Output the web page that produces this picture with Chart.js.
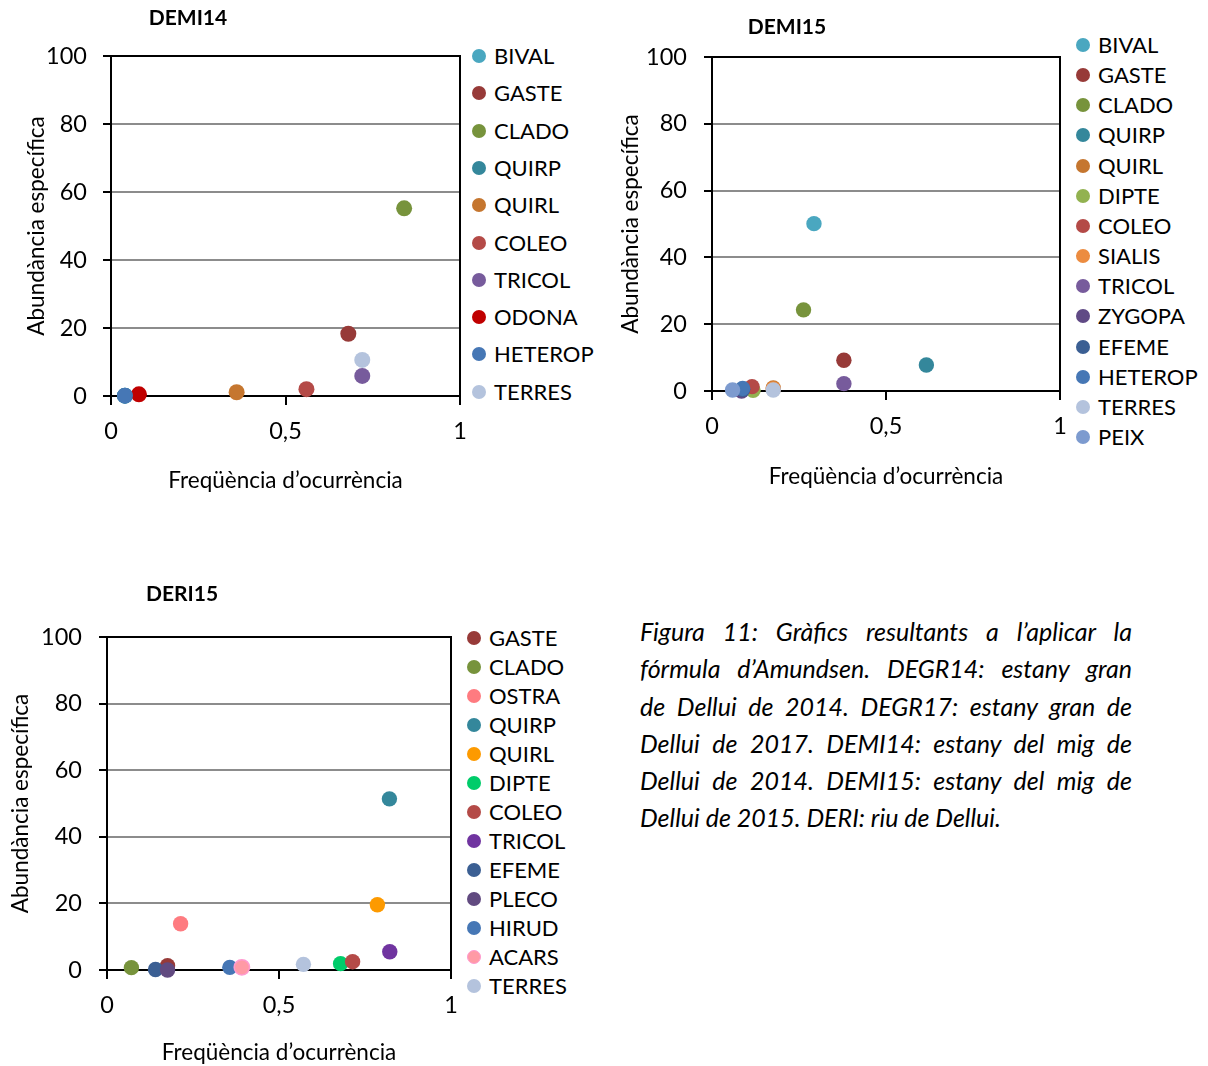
<!DOCTYPE html>
<html>
<head>
<meta charset="utf-8">
<script src="https://cdn.jsdelivr.net/npm/chart.js@4.4.1/dist/chart.umd.min.js"></script>
<style>
  html, body { margin: 0; padding: 0; background: #fff; }
  body { position: relative; width: 1208px; height: 1066px; overflow: hidden; font-family: Lato, "Open Sans", sans-serif; color: #000; }
  canvas { position: absolute; }
  .ttl { position: absolute; font-weight: bold; font-size: 21px; transform: translate(-50%, -50%); white-space: nowrap; }
  .leg-item { position: absolute; display: flex; align-items: center; white-space: nowrap; font-size: 22px; line-height: 1; transform: translateY(-50%); }
  .leg-item .mk { width: 14px; height: 14px; border-radius: 50%; margin-right: 8px; flex: none; box-sizing: border-box; }
  .cap { position: absolute; left: 640px; width: 492px; font-style: italic; font-size: 25px; }
  .cap div { height: 37.3px; line-height: 37.3px; text-align: justify; text-align-last: justify; white-space: nowrap; }
  .cap div.last { text-align-last: left; }
</style>
</head>
<body>
<canvas id="c1" width="472" height="500"></canvas>
<canvas id="c2" width="472" height="500"></canvas>
<canvas id="c3" width="464" height="506"></canvas>

<div class="ttl" style="left:188px;top:16px">DEMI14</div>
<div class="ttl" style="left:787px;top:25px">DEMI15</div>
<div class="ttl" style="left:182px;top:592px">DERI15</div>

<div id="leg1"></div>
<div id="leg2"></div>
<div id="leg3"></div>

<div class="cap" style="top:613px">
  <div>Figura 11: Gràfics resultants a l’aplicar la</div>
  <div>fórmula d’Amundsen. DEGR14: estany gran</div>
  <div>de Dellui de 2014. DEGR17: estany gran de</div>
  <div>Dellui de 2017. DEMI14: estany del mig de</div>
  <div>Dellui de 2014. DEMI15: estany del mig de</div>
  <div class="last">Dellui de 2015. DERI: riu de Dellui.</div>
</div>

<script>
// Shared axes
const xTicks = [0, 0.5, 1];
const xTickLabels = ['0', '0,5', '1'];
const yTicks = [0, 20, 40, 60, 80, 100];
const yTickLabels = ['0', '20', '40', '60', '80', '100'];
const xTitle = 'Freqüència d’ocurrència';
const yTitle = 'Abundància específica';

// DEMI14
const demi14Taxa  = ['BIVAL', 'GASTE', 'CLADO', 'QUIRP', 'QUIRL', 'COLEO', 'TRICOL', 'ODONA', 'HETEROP', 'TERRES'];
const demi14Freq  = [0.04, 0.68, 0.84, 0.04, 0.36, 0.56, 0.72, 0.08, 0.04, 0.72];
const demi14Abund = [0.1, 18.3, 55.2, 0.1, 1.1, 2.0, 5.9, 0.5, 0.1, 10.6];
const demi14Colors = ['#4aa7c0', '#973a38', '#77933c', '#34879b', '#c5762f', '#b44a47', '#775b9c', '#c00000', '#4677b5', '#b4c3dd'];

// DEMI15
const demi15Taxa  = ['BIVAL', 'GASTE', 'CLADO', 'QUIRP', 'QUIRL', 'DIPTE', 'COLEO', 'SIALIS', 'TRICOL', 'ZYGOPA', 'EFEME', 'HETEROP', 'TERRES', 'PEIX'];
const demi15Freq  = [0.293, 0.379, 0.263, 0.616, 0.176, 0.118, 0.115, 0.176, 0.379, 0.085, 0.088, 0.088, 0.176, 0.059];
const demi15Abund = [50.1, 9.2, 24.3, 7.8, 0.9, 0.2, 1.3, 0.6, 2.2, 0.0, 0.5, 0.8, 0.3, 0.3];
const demi15Colors = ['#4aa7c0', '#973a38', '#77933c', '#34879b', '#c5762f', '#92b250', '#b44a47', '#ec8c40', '#775b9c', '#604a85', '#3b5f93', '#4677b5', '#b4c3dd', '#7d9bcf'];

// DERI15
const deri15Taxa  = ['GASTE', 'CLADO', 'OSTRA', 'QUIRP', 'QUIRL', 'DIPTE', 'COLEO', 'TRICOL', 'EFEME', 'PLECO', 'HIRUD', 'ACARS', 'TERRES'];
const deri15Freq  = [0.176, 0.071, 0.214, 0.821, 0.786, 0.679, 0.714, 0.822, 0.141, 0.176, 0.357, 0.392, 0.571];
const deri15Abund = [1.3, 0.7, 13.9, 51.4, 19.6, 1.9, 2.5, 5.5, 0.15, 0.0, 0.8, 0.8, 1.7];
const deri15Colors = ['#973a38', '#77933c', '#fe7b80', '#34879b', '#fd9a00', '#00cc6a', '#b44a47', '#7034a0', '#3b5f93', '#614a80', '#4677b5', '#ff9aa5', '#b4c3dd'];
const deri15Borders = ['#973a38', '#77933c', '#fe7b80', '#34879b', '#fd9a00', '#00cc6a', '#b44a47', '#7034a0', '#3b5f93', '#614a80', '#4677b5', '#ff9ad0', '#b4c3dd'];

const FONT = 'Lato, "Open Sans", sans-serif';
const TICK_SIZE = 23.5;
const TITLE_SIZE = 22.5;
const GRID_GREY = '#8c8c8c';

// Black frame round the plotting area, under the markers
const frame = {
  id: 'frame',
  beforeDatasetsDraw(chart) {
    const { ctx, chartArea: a } = chart;
    ctx.save();
    ctx.strokeStyle = '#000';
    ctx.lineWidth = 2;
    ctx.strokeRect(a.left, a.top, a.right - a.left, a.bottom - a.top);
    ctx.restore();
  }
};

function placeCanvas(id, g) {
  const el = document.getElementById(id);
  el.style.left = g.left + 'px';
  el.style.top = g.top + 'px';
}

function buildChart(id, g, taxa, freq, abund, colors, borders) {
  placeCanvas(id, g);
  const n = taxa.length;
  const titleLH = TITLE_SIZE * 1.2;
  const yAxisW = g.area.l - g.left;
  const xAxisH = g.top + g.h - g.area.b;
  const datasets = taxa.map((name, i) => ({
    label: name,
    data: [{ x: freq[i], y: abund[i] }],
    backgroundColor: colors[i],
    borderColor: borders ? borders[i] : colors[i],
    borderWidth: borders && borders[i] !== colors[i] ? 1.5 : 0,
    pointRadius: g.r,
    pointHoverRadius: g.r,
    order: n - i,
    clip: false
  }));
  return new Chart(document.getElementById(id), {
    type: 'scatter',
    data: { datasets },
    plugins: [frame],
    options: {
      responsive: false,
      animation: false,
      devicePixelRatio: 1,
      events: [],
      layout: {
        padding: { left: 0, top: g.area.t - g.top, right: g.left + g.w - g.area.r, bottom: 0 }
      },
      plugins: { legend: { display: false }, tooltip: { enabled: false } },
      scales: {
        x: {
          type: 'linear', min: 0, max: 1,
          afterBuildTicks: s => { s.ticks = xTicks.map(v => ({ value: v })); },
          afterFit: s => { s.height = xAxisH; s.paddingLeft = 0; s.paddingRight = 0; },
          ticks: {
            callback: (v, i) => xTickLabels[i],
            font: { family: FONT, size: TICK_SIZE }, color: '#000',
            padding: 12, maxRotation: 0, autoSkip: false
          },
          grid: { drawOnChartArea: false, drawTicks: true, tickLength: 9, tickColor: '#000', tickWidth: 2, lineWidth: 2 },
          border: { display: true, color: '#000', width: 2 },
          title: {
            display: true, text: xTitle, color: '#000',
            font: { family: FONT, size: TITLE_SIZE },
            padding: { top: 0, bottom: g.top + g.h - g.xTitleY - titleLH / 2 }
          }
        },
        y: {
          type: 'linear', min: 0, max: 100,
          afterBuildTicks: s => { s.ticks = yTicks.map(v => ({ value: v })); },
          afterFit: s => { s.width = yAxisW; s.paddingTop = 0; s.paddingBottom = 0; },
          ticks: {
            callback: (v, i) => yTickLabels[i],
            font: { family: FONT, size: TICK_SIZE }, color: '#000',
            padding: g.yLabelGap, autoSkip: false
          },
          grid: {
            color: c => (c.tick && (c.tick.value === 0 || c.tick.value === 100)) ? 'rgba(0,0,0,0)' : GRID_GREY,
            lineWidth: 2, drawTicks: true, tickLength: 8, tickColor: '#000', tickWidth: 2
          },
          border: { display: true, color: '#000', width: 2 },
          title: {
            display: true, text: yTitle, color: '#000',
            font: { family: FONT, size: TITLE_SIZE },
            padding: { top: g.yTitleX - g.left - titleLH / 2, bottom: 0 }
          }
        }
      }
    }
  });
}

function buildLegend(holderId, taxa, colors, borders, g) {
  const holder = document.getElementById(holderId);
  taxa.forEach((name, i) => {
    const item = document.createElement('div');
    item.className = 'leg-item';
    item.style.left = g.x + 'px';
    item.style.top = (g.y + i * g.step) + 'px';
    const mk = document.createElement('span');
    mk.className = 'mk';
    mk.style.background = colors[i];
    if (borders && borders[i] !== colors[i]) mk.style.border = '1.5px solid ' + borders[i];
    const tx = document.createElement('span');
    tx.textContent = name;
    item.appendChild(mk);
    item.appendChild(tx);
    holder.appendChild(item);
  });
}

buildChart('c1', { left: 0, top: 0, w: 472, h: 500, area: { l: 111, r: 460, t: 56, b: 396 }, yTitleX: 37, xTitleY: 481, yLabelGap: 16, r: 8 },
  demi14Taxa, demi14Freq, demi14Abund, demi14Colors);
buildChart('c2', { left: 600, top: 0, w: 472, h: 500, area: { l: 712, r: 1060, t: 57, b: 391 }, yTitleX: 631, xTitleY: 477, yLabelGap: 17, r: 7.7 },
  demi15Taxa, demi15Freq, demi15Abund, demi15Colors);
buildChart('c3', { left: 0, top: 560, w: 464, h: 506, area: { l: 107, r: 451, t: 637, b: 970 }, yTitleX: 21, xTitleY: 1053, yLabelGap: 17, r: 7.7 },
  deri15Taxa, deri15Freq, deri15Abund, deri15Colors, deri15Borders);

buildLegend('leg1', demi14Taxa, demi14Colors, null, { x: 472, y: 56, step: 37.3 });
buildLegend('leg2', demi15Taxa, demi15Colors, null, { x: 1076, y: 45, step: 30.15 });
buildLegend('leg3', deri15Taxa, deri15Colors, deri15Borders, { x: 467, y: 638, step: 29.0 });
</script>
</body>
</html>
